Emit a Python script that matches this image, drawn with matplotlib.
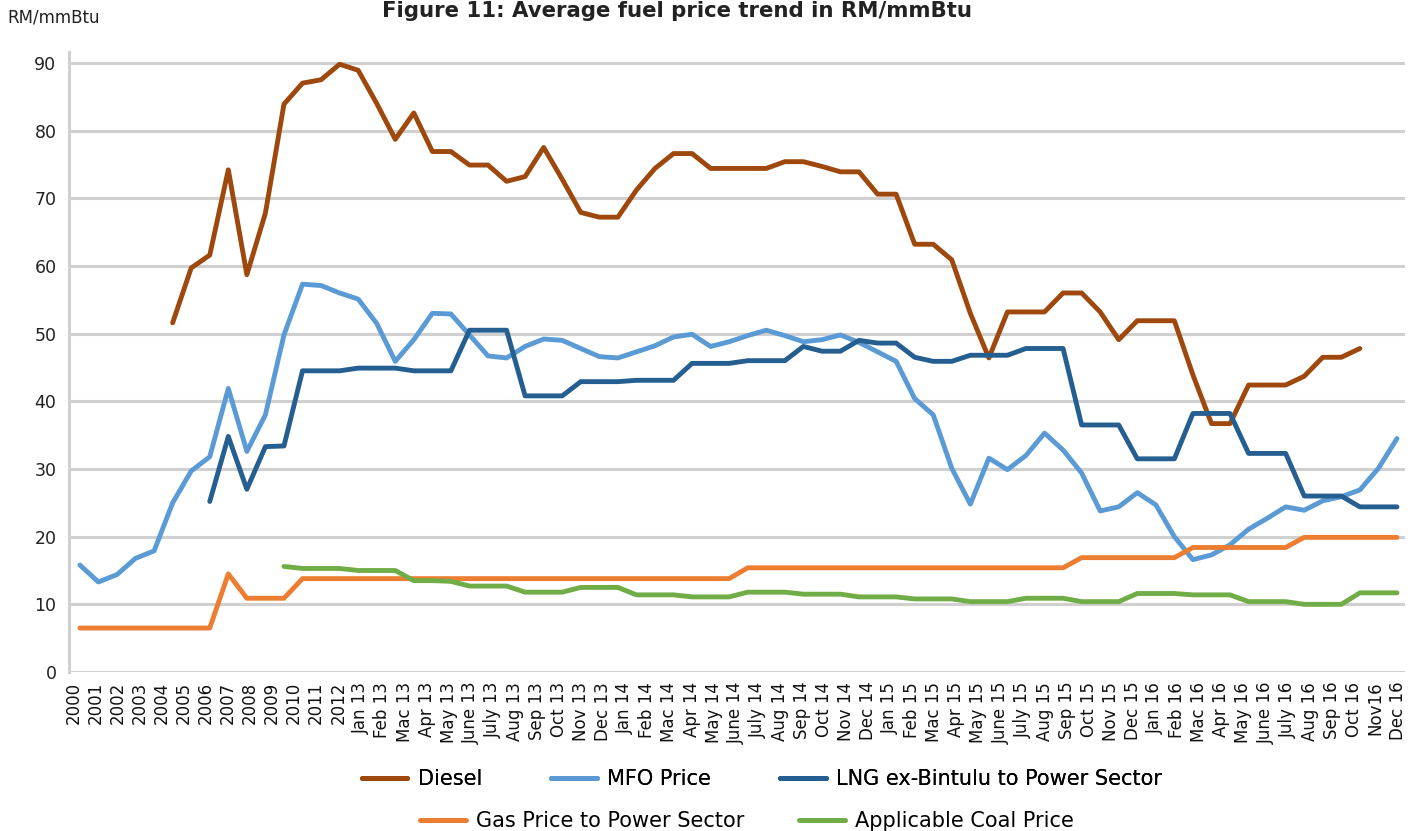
import numpy as np
import matplotlib
matplotlib.use('Agg')
import matplotlib.pyplot as plt
from matplotlib.lines import Line2D

nan = np.nan

# category labels shown under the axis
xlabels = ['2000', '2001', '2002', '2003', '2004', '2005', '2006', '2007', '2008',
           '2009', '2010', '2011', '2012',
           'Jan 13', 'Feb 13', 'Mac 13', 'Apr 13', 'May 13', 'June 13', 'July 13',
           'Aug 13', 'Sep 13', 'Oct 13', 'Nov 13', 'Dec 13',
           'Jan 14', 'Feb 14', 'Mac 14', 'Apr 14', 'May 14', 'June 14', 'July 14',
           'Aug 14', 'Sep 14', 'Oct 14', 'Nov 14', 'Dec 14',
           'Jan 15', 'Feb 15', 'Mac 15', 'Apr 15', 'May 15', 'June 15', 'July 15',
           'Aug 15', 'Sep 15', 'Oct 15', 'Nov 15', 'Dec 15',
           'Jan 16', 'Feb 16', 'Mac 16', 'Apr 16', 'May 16', 'June 16', 'July 16',
           'Aug 16', 'Sep 16', 'Oct 16', 'Nov16', 'Dec 16']

# series values, RM/mmBtu (72 points each)
diesel = [nan, nan, nan, nan, nan, 51.6, 59.7, 61.6, 74.2, 58.7,
          67.8, 83.9, 87.0, 87.5, 89.8, 88.9, 84.0, 78.7, 82.6, 76.9,
          76.9, 74.9, 74.9, 72.5, 73.2, 77.5, 72.8, 67.9, 67.2, 67.2,
          71.2, 74.4, 76.6, 76.6, 74.4, 74.4, 74.4, 74.4, 75.4, 75.4,
          74.7, 73.9, 73.9, 70.6, 70.6, 63.2, 63.2, 60.9, 53.0, 46.4,
          53.2, 53.2, 53.2, 56.0, 56.0, 53.2, 49.1, 51.9, 51.9, 51.9,
          43.9, 36.7, 36.7, 42.4, 42.4, 42.4, 43.7, 46.5, 46.5, 47.8,
          nan, nan]
mfo = [15.8, 13.3, 14.4, 16.8, 17.9, 25.0, 29.7, 31.8, 41.9, 32.6,
       38.0, 49.8, 57.3, 57.1, 56.0, 55.1, 51.5, 45.9, 49.1, 53.0,
       52.9, 49.8, 46.7, 46.4, 48.1, 49.2, 49.0, 47.8, 46.6, 46.4,
       47.3, 48.2, 49.5, 49.9, 48.1, 48.8, 49.7, 50.5, 49.7, 48.8,
       49.1, 49.8, 48.7, 47.3, 45.9, 40.4, 38.0, 30.1, 24.8, 31.6,
       29.9, 32.0, 35.3, 32.8, 29.4, 23.8, 24.4, 26.5, 24.7, 20.0,
       16.6, 17.3, 18.8, 21.1, 22.7, 24.4, 23.9, 25.3, 25.9, 26.9,
       30.1, 34.5]
lng = [nan, nan, nan, nan, nan, nan, nan, 25.2, 34.8, 27.0,
       33.3, 33.4, 44.5, 44.5, 44.5, 44.9, 44.9, 44.9, 44.5, 44.5,
       44.5, 50.5, 50.5, 50.5, 40.8, 40.8, 40.8, 42.9, 42.9, 42.9,
       43.1, 43.1, 43.1, 45.6, 45.6, 45.6, 46.0, 46.0, 46.0, 48.1,
       47.4, 47.4, 49.0, 48.6, 48.6, 46.5, 45.9, 45.9, 46.8, 46.8,
       46.8, 47.8, 47.8, 47.8, 36.5, 36.5, 36.5, 31.5, 31.5, 31.5,
       38.2, 38.2, 38.2, 32.3, 32.3, 32.3, 26.0, 26.0, 26.0, 24.4,
       24.4, 24.4]
gas = [6.5, 6.5, 6.5, 6.5, 6.5, 6.5, 6.5, 6.5, 14.5, 10.9,
       10.9, 10.9, 13.8, 13.8, 13.8, 13.8, 13.8, 13.8, 13.8, 13.8,
       13.8, 13.8, 13.8, 13.8, 13.8, 13.8, 13.8, 13.8, 13.8, 13.8,
       13.8, 13.8, 13.8, 13.8, 13.8, 13.8, 15.4, 15.4, 15.4, 15.4,
       15.4, 15.4, 15.4, 15.4, 15.4, 15.4, 15.4, 15.4, 15.4, 15.4,
       15.4, 15.4, 15.4, 15.4, 16.9, 16.9, 16.9, 16.9, 16.9, 16.9,
       18.4, 18.4, 18.4, 18.4, 18.4, 18.4, 19.9, 19.9, 19.9, 19.9,
       19.9, 19.9]
coal = [nan, nan, nan, nan, nan, nan, nan, nan, nan, nan,
        nan, 15.6, 15.3, 15.3, 15.3, 15.0, 15.0, 15.0, 13.5, 13.5,
        13.4, 12.7, 12.7, 12.7, 11.8, 11.8, 11.8, 12.5, 12.5, 12.5,
        11.4, 11.4, 11.4, 11.1, 11.1, 11.1, 11.8, 11.8, 11.8, 11.5,
        11.5, 11.5, 11.1, 11.1, 11.1, 10.8, 10.8, 10.8, 10.4, 10.4,
        10.4, 10.9, 10.9, 10.9, 10.4, 10.4, 10.4, 11.6, 11.6, 11.6,
        11.4, 11.4, 11.4, 10.4, 10.4, 10.4, 10.0, 10.0, 10.0, 11.7,
        11.7, 11.7]

names = ['Diesel', 'MFO Price', 'LNG ex-Bintulu to Power Sector',
         'Gas Price to Power Sector', 'Applicable Coal Price']
colors = ['#9E480E', '#5B9BD5', '#255E91', '#ED7D31', '#70AD47']

x = np.arange(len(diesel))
grid_c = '#D0D0D0'

fig = plt.figure(figsize=(14.16, 8.31), dpi=100)
ax = fig.add_axes([0.0487, 0.1913, 0.9435, 0.7461])

# draw order: coal under gas
order = [0, 1, 2, 4, 3]
series = [diesel, mfo, lng, gas, coal]
for k in order:
    ax.plot(x, series[k], color=colors[k], lw=3.5,
            solid_capstyle='round', solid_joinstyle='round', zorder=3 + k)

ax.set_ylim(0, 91.6)
ax.set_xlim(-0.59, 71.43)
ax.set_yticks(np.arange(0, 91, 10))
ax.set_xticks(np.linspace(-0.35, 71.05, len(xlabels)))
ax.set_xticklabels(xlabels, rotation=90, fontsize=12)
ax.tick_params(axis='y', length=0, pad=9, labelsize=12.5, labelcolor='#222222')
ax.tick_params(axis='x', length=0, pad=7, labelcolor='#111111')
ax.grid(axis='y', color=grid_c, lw=2.2, zorder=0)
ax.set_axisbelow(True)
for s in ['top', 'right', 'bottom']:
    ax.spines[s].set_visible(False)
ax.spines['left'].set_color(grid_c)
ax.spines['left'].set_linewidth(2.2)

fig.text(0.478, 0.987, 'Figure 11: Average fuel price trend in RM/mmBtu',
         ha='center', va='center', fontsize=15.3, fontweight='bold', color='#222222')
fig.text(0.005, 0.979, 'RM/mmBtu', ha='left', va='center', fontsize=12, color='#222222')

# legend in two centred rows
handles = [Line2D([], [], color=c, lw=3.6, solid_capstyle='round') for c in colors]
leg1 = fig.legend(handles[:3], names[:3], loc='center', bbox_to_anchor=(0.538, 0.0626),
                  ncol=3, frameon=False, fontsize=15, handlelength=2.2,
                  handletextpad=0.5, columnspacing=3.3)
fig.add_artist(leg1)
fig.legend(handles[3:], names[3:], loc='center', bbox_to_anchor=(0.5276, 0.012),
           ncol=2, frameon=False, fontsize=15, handlelength=2.2,
           handletextpad=0.5, columnspacing=2.6)

fig.savefig('out.png', dpi=100)
